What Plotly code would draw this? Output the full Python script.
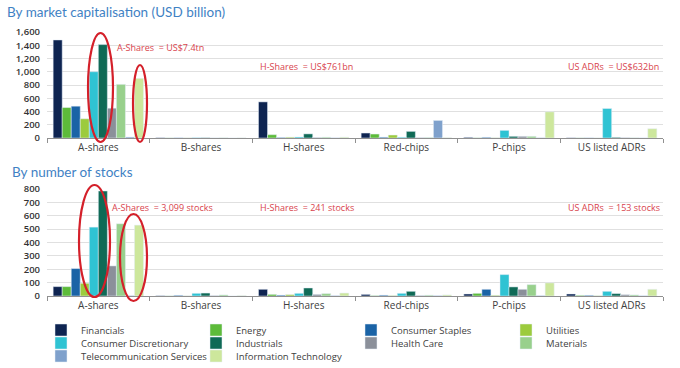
import plotly.graph_objects as go

W, H = 680, 368

categories = ["A-shares", "B-shares", "H-shares", "Red-chips", "P-chips", "US listed ADRs"]

sectors = ["Financials", "Energy", "Consumer Staples", "Utilities",
           "Consumer Discretionary", "Industrials", "Health Care", "Materials",
           "Telecommunication Services", "Information Technology"]

colors = ["#0e2451", "#5dbb3a", "#1a63a6", "#9ccb3d", "#2fc3d3",
          "#0f6a56", "#8b909a", "#98d08c", "#7fa1cc", "#cde79c"]

# Market capitalisation (USD billion), order: A, B, H, Red, P, US ADRs
mcap_financials = [1480, 4, 545, 75, 10, 3]
mcap_energy = [460, 2, 50, 60, 3, 2]
mcap_staples = [480, 3, 8, 12, 10, 2]
mcap_utilities = [290, 2, 12, 45, 3, 1]
mcap_discretionary = [1000, 5, 15, 12, 115, 445]
mcap_industrials = [1410, 4, 62, 100, 25, 10]
mcap_healthcare = [450, 1, 8, 5, 25, 5]
mcap_materials = [810, 3, 12, 8, 25, 3]
mcap_telecom = [15, 0, 3, 265, 3, 1]
mcap_it = [900, 2, 12, 5, 395, 140]

# Number of stocks
stocks_financials = [70, 2, 50, 12, 15, 15]
stocks_energy = [70, 1, 12, 3, 20, 5]
stocks_staples = [205, 5, 6, 6, 50, 5]
stocks_utilities = [95, 1, 10, 3, 5, 2]
stocks_discretionary = [515, 20, 20, 20, 160, 35]
stocks_industrials = [785, 22, 60, 35, 68, 18]
stocks_healthcare = [225, 3, 12, 4, 50, 10]
stocks_materials = [540, 8, 18, 6, 85, 8]
stocks_telecom = [3, 0, 3, 3, 3, 2]
stocks_it = [530, 3, 22, 8, 98, 50]

mcap_series = [mcap_financials, mcap_energy, mcap_staples, mcap_utilities,
               mcap_discretionary, mcap_industrials, mcap_healthcare,
               mcap_materials, mcap_telecom, mcap_it]
stocks_series = [stocks_financials, stocks_energy, stocks_staples, stocks_utilities,
                 stocks_discretionary, stocks_industrials, stocks_healthcare,
                 stocks_materials, stocks_telecom, stocks_it]

NB = "\u00a0"
top_notes = ["A-Shares" + NB + " = US$7.4tn", "H-Shares" + NB + " = US$761bn",
             "US ADRs" + NB + " = US$632bn"]
bottom_notes = ["A-Shares" + NB + " = 3,099 stocks", "H-Shares" + NB + " = 241 stocks",
                "US ADRs" + NB + " = 153 stocks"]


def px(x):
    return x / W


def py(y):
    return 1 - y / H


legend_rows = ["legend", "legend", "legend", "legend",
               "legend2", "legend2", "legend2", "legend2",
               "legend3", "legend3"]

fig = go.Figure()
for i, s in enumerate(sectors):
    fig.add_trace(go.Bar(x=categories, y=mcap_series[i], name=s,
                         marker_color=colors[i], legendgroup=s,
                         legend=legend_rows[i], xaxis="x", yaxis="y"))
for i, s in enumerate(sectors):
    fig.add_trace(go.Bar(x=categories, y=stocks_series[i], name=s,
                         marker_color=colors[i], legendgroup=s, showlegend=False,
                         xaxis="x2", yaxis="y2"))

FONT = "Open Sans"
TXT = "#404040"
GRID = "#e0e0e0"

xaxis_common = dict(
    type="category", tickson="boundaries", ticks="outside", ticklen=4,
    tickcolor="#909090", showline=True, linecolor="#909090", linewidth=1,
    showgrid=False, tickfont=dict(family=FONT, size=10, color=TXT),
    automargin=False, domain=[px(47), px(663)], fixedrange=True,
)
yaxis_common = dict(
    showgrid=True, gridcolor=GRID, gridwidth=1, zeroline=False, showline=False,
    tickfont=dict(family=FONT, size=9.5, color="#333333", weight=600),
    tickformat=",", automargin=False, ticks="", ticklabelstandoff=6,
    fixedrange=True,
)

legend_common = dict(
    orientation="h", entrywidth=110, entrywidthmode="pixels",
    xref="container", yref="container",
    xanchor="left", yanchor="middle", x=px(41),
    font=dict(family=FONT, size=9.5, color=TXT), bgcolor="rgba(0,0,0,0)",
    itemwidth=30, tracegroupgap=0, traceorder="normal",
)

fig.update_layout(
    width=W, height=H,
    margin=dict(l=0, r=0, t=0, b=0, autoexpand=False),
    paper_bgcolor="white", plot_bgcolor="white",
    barmode="group", bargap=0.12, bargroupgap=0,
    xaxis=dict(xaxis_common, anchor="y"),
    yaxis=dict(yaxis_common, range=[0, 1600], dtick=200,
               domain=[py(138), py(32)], anchor="x"),
    xaxis2=dict(xaxis_common, anchor="y2"),
    yaxis2=dict(yaxis_common, range=[0, 800], dtick=100,
                domain=[py(296), py(189)], anchor="x2"),
    legend=dict(legend_common, y=py(330)),
    legend2=dict(legend_common, y=py(343)),
    legend3=dict(legend_common, y=py(356)),
)

annotations = [
    dict(text="By market capitalisation (USD billion)", x=px(5), y=py(12)),
    dict(text="By number of stocks", x=px(10), y=py(172)),
]
for a in annotations:
    a.update(xref="paper", yref="paper", xanchor="left", yanchor="middle",
             showarrow=False, font=dict(family="Lato", size=13.5, color="#3f82c4"))

RED = "#d8434c"
note_pos_top = [(115, 47), (258, 66), (566, 66)]
note_pos_bot = [(110, 208), (258, 208), (566, 208)]
for t, (x, y) in zip(top_notes, note_pos_top):
    annotations.append(dict(text=t, x=px(x), y=py(y), xref="paper", yref="paper",
                            xanchor="left", yanchor="middle", showarrow=False,
                            font=dict(family=FONT, size=9, color=RED)))
for t, (x, y) in zip(bottom_notes, note_pos_bot):
    annotations.append(dict(text=t, x=px(x), y=py(y), xref="paper", yref="paper",
                            xanchor="left", yanchor="middle", showarrow=False,
                            font=dict(family=FONT, size=9, color=RED)))
fig.update_layout(annotations=annotations)

ellipses = [(88, 33, 113, 142), (133, 65, 147, 142),
            (79, 185, 110, 297), (120, 214, 147, 301)]
for (x0, y0, x1, y1) in ellipses:
    fig.add_shape(type="circle", xref="paper", yref="paper",
                  x0=px(x0), x1=px(x1), y0=py(y1), y1=py(y0),
                  line=dict(color="#d4202a", width=2.2))

fig.write_html("out.html", config={"displayModeBar": False},
               post_script="document.body.style.margin='0';")
